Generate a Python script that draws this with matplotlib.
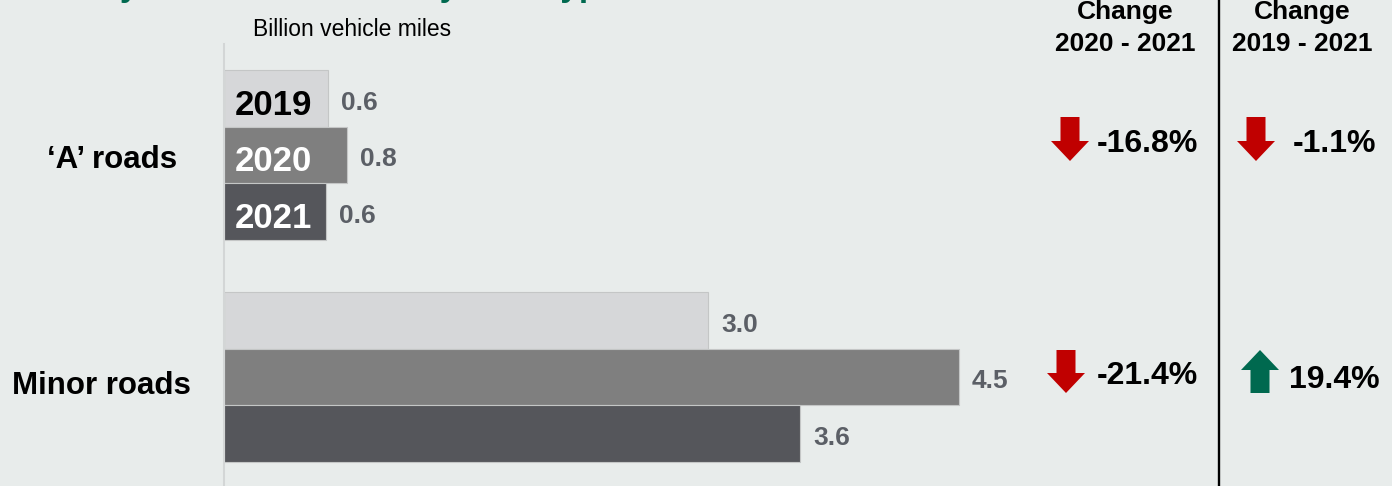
import numpy as np
import matplotlib
matplotlib.use("Agg")
import matplotlib.pyplot as plt
from matplotlib.patches import Polygon

plt.rcParams['font.family'] = ['Liberation Sans', 'DejaVu Sans']

# data (billion vehicle miles)
road_types = ['\u2018A\u2019 roads', 'Minor roads']
years = ['2019', '2020', '2021']
miles_2019 = [0.64, 2.99]
miles_2020 = [0.76, 4.54]
miles_2021 = [0.63, 3.56]
change_2020_2021 = [-16.8, -21.4]
change_2019_2021 = [-1.1, 19.4]

bg = '#e8eceb'
bar_colors = ['#d6d7d9', '#7f7f7f', '#55565b']
year_text_colors = ['black', 'white', 'white']
green = '#00694f'
red = '#c00000'

W, H = 1392, 486
fig = plt.figure(figsize=(W / 100, H / 100), dpi=100, facecolor=bg)

# main bar axes
ax = fig.add_axes([224 / W, 0, 809 / W, (H - 44) / H])
ax.set_facecolor(bg)
bh = 0.2545
ypos = np.arange(len(road_types))
series = [miles_2019, miles_2020, miles_2021]
for i, vals in enumerate(series):
    y = ypos + (i - 1) * bh
    ax.barh(y, vals, height=bh, color=bar_colors[i], edgecolor='#c4c6c6', linewidth=0.8)
    for yy, v in zip(y, vals):
        ax.annotate(f"{v:.1f}", (v, yy), xytext=(9.5, -3), textcoords='offset points',
                    ha='left', va='center', fontsize=19, fontweight='bold', color='#5b5f66')
    # year labels inside the first group
    ax.annotate(years[i], (0, y[0]), xytext=(7.5, -5), textcoords='offset points',
                ha='left', va='center', fontsize=25, fontweight='bold', color=year_text_colors[i])

ax.set_xlim(0, 5)
ax.set_ylim(1 + (H - 377) / 222, -0.5)
for s in ['top', 'right', 'bottom']:
    ax.spines[s].set_visible(False)
ax.spines['left'].set_color('#d3d6d6')
ax.spines['left'].set_linewidth(1.5)
ax.set_xticks([])
ax.set_yticks([])

# overlay in pixel coordinates for text and arrows
ov = fig.add_axes([0, 0, 1, 1], facecolor='none')
ov.set_xlim(0, W)
ov.set_ylim(H, 0)
ov.axis('off')

# title, cut off at the top edge as in the source
ov.text(3, -4, 'Pedal cycle traffic in 2021 by road type', fontsize=24, fontweight='bold',
        color=green, ha='left', va='baseline', clip_on=False)

ov.text(253, 30, 'Billion vehicle miles', fontsize=16.5, ha='left', va='center')

ov.text(47, 160, road_types[0], fontsize=22.5, fontweight='bold', ha='left', va='center')
ov.text(12, 386, road_types[1], fontsize=22.5, fontweight='bold', ha='left', va='center')

# column headers
for xc, lab in [(1125, '2020 - 2021'), (1302, '2019 - 2021')]:
    ov.text(xc, 19, 'Change', fontsize=19, fontweight='bold', ha='center', va='baseline')
    ov.text(xc, 51, lab, fontsize=19, fontweight='bold', ha='center', va='baseline')

ov.plot([1219, 1219], [0, H], color='black', lw=1.7, solid_capstyle='butt')


def arrow(xc, y0, y1, up, color):
    # y0 top, y1 bottom of arrow in pixels
    sw, hw, hl = 9.5, 19, 20
    if up:
        pts = [(xc, y0), (xc + hw, y0 + hl), (xc + sw, y0 + hl), (xc + sw, y1),
               (xc - sw, y1), (xc - sw, y0 + hl), (xc - hw, y0 + hl)]
    else:
        pts = [(xc, y1), (xc + hw, y1 - hl), (xc + sw, y1 - hl), (xc + sw, y0),
               (xc - sw, y0), (xc - sw, y1 - hl), (xc - hw, y1 - hl)]
    ov.add_patch(Polygon(pts, closed=True, facecolor=color, edgecolor='none'))


def fmt(v):
    return f"{v:.1f}%"


# change columns
rows = [(117, 161, 144), (350, 393, 376)]
arrow_x1 = [1070, 1066]
arrow_x2 = [1256, 1260]
text_x2 = [1293, 1289]
for r, (ya, yb, yt) in enumerate(rows):
    c1 = change_2020_2021[r]
    arrow(arrow_x1[r], ya, yb, c1 > 0, green if c1 > 0 else red)
    ov.text(1097, yt, fmt(c1), fontsize=23, fontweight='bold', ha='left', va='center')
    c2 = change_2019_2021[r]
    arrow(arrow_x2[r], ya, yb, c2 > 0, green if c2 > 0 else red)
    ov.text(text_x2[r], yt + (4 if c2 > 0 else 0), fmt(c2), fontsize=23, fontweight='bold',
            ha='left', va='center')

fig.savefig('out.png', dpi=100, facecolor=bg)
